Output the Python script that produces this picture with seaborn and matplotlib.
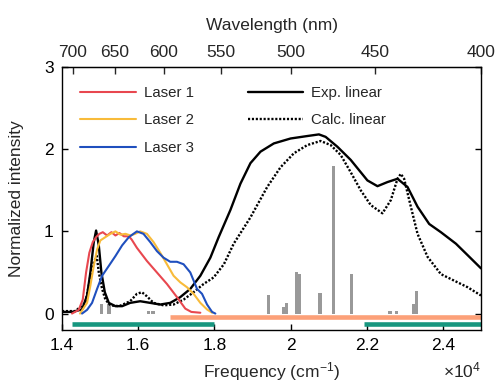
import numpy as np
import pandas as pd
import matplotlib
matplotlib.use("Agg")
import matplotlib.pyplot as plt
import seaborn as sns
from matplotlib.lines import Line2D

# ---------------- data ----------------
exp_f = [14000, 14263, 14526, 14658, 14745, 14834, 14895, 14966, 15034, 15124, 15229,
         15403, 15579, 15789, 16053, 16316, 16579, 16842, 17105, 17368, 17632, 17895,
         18113, 18421, 18684, 18947, 19211, 19561, 20000, 20439, 20745, 20921, 21229,
         21579, 22018, 22282, 22545, 22808, 23071, 23334, 23640, 23947, 24342, 24650, 25000]
exp_y = [0.02, 0.02, 0.05, 0.22, 0.50, 0.87, 1.01, 0.83, 0.50, 0.26, 0.13,
         0.09, 0.09, 0.13, 0.15, 0.13, 0.11, 0.13, 0.20, 0.30, 0.46, 0.68,
         0.93, 1.26, 1.58, 1.83, 1.97, 2.07, 2.13, 2.16, 2.18, 2.15, 2.03,
         1.87, 1.62, 1.55, 1.60, 1.64, 1.54, 1.30, 1.09, 0.99, 0.85, 0.71, 0.55]

calc_f = [14000, 14350, 14613, 14703, 14789, 14913, 14966, 15053, 15139, 15271, 15500,
          15789, 15966, 16097, 16229, 16403, 16666, 16929, 17192, 17455, 17718, 17982,
          18250, 18508, 18947, 19387, 19737, 20087, 20439, 20789, 21053, 21316, 21579,
          21842, 22105, 22413, 22632, 22808, 22895, 22982, 23158, 23334, 23597, 23947,
          24297, 24650, 25000]
calc_y = [0.03, 0.03, 0.13, 0.34, 0.58, 0.70, 0.50, 0.30, 0.17, 0.10, 0.09,
          0.15, 0.24, 0.26, 0.21, 0.13, 0.10, 0.11, 0.17, 0.26, 0.36, 0.44,
          0.60, 0.85, 1.17, 1.54, 1.78, 1.95, 2.05, 2.10, 2.05, 1.93, 1.72,
          1.50, 1.32, 1.22, 1.38, 1.64, 1.70, 1.64, 1.30, 0.97, 0.69, 0.48,
          0.40, 0.32, 0.22]

laser1_f = [14263, 14439, 14545, 14632, 14718, 14808, 14895, 14982, 15071, 15184, 15297,
            15403, 15508, 15624, 15755, 15830, 15966, 16229, 16492, 16755, 17018, 17237,
            17395, 17632]
laser1_y = [0.00, 0.045, 0.17, 0.50, 0.74, 0.87, 0.93, 0.97, 0.99, 0.95, 0.99,
            0.95, 0.98, 0.94, 0.94, 0.90, 0.80, 0.64, 0.50, 0.36, 0.20, 0.06,
            0.02, 0.01]

laser2_f = [14474, 14658, 14745, 14834, 14921, 15008, 15139, 15271, 15403, 15534, 15666,
            15797, 15921, 16053, 16229, 16403, 16579, 16755, 16929, 17105, 17282, 17455,
            17632, 17808, 17940]
laser2_y = [0.00, 0.13, 0.34, 0.58, 0.78, 0.89, 0.93, 0.97, 1.00, 0.96, 0.97,
            0.95, 0.97, 1.00, 0.97, 0.87, 0.74, 0.60, 0.46, 0.38, 0.32, 0.24,
            0.13, 0.05, 0.01]

laser3_f = [14526, 14658, 14789, 14921, 15053, 15229, 15403, 15579, 15755, 15966, 16139,
            16316, 16492, 16666, 16842, 17018, 17192, 17368, 17545, 17676, 17808, 17940,
            18026]
laser3_y = [0.00, 0.045, 0.13, 0.30, 0.46, 0.58, 0.70, 0.83, 0.93, 1.00, 0.97,
            0.87, 0.76, 0.68, 0.63, 0.63, 0.60, 0.50, 0.30, 0.24, 0.11, 0.02,
            0.00]

stick_f = [15044, 15237, 16271, 16386, 19413, 19824, 19887, 20158, 20245, 20771,
           21124, 21597, 22613, 22782, 23218, 23308]
stick_h = [0.12, 0.12, 0.03, 0.03, 0.22, 0.08, 0.13, 0.50, 0.48, 0.25,
           1.80, 0.48, 0.03, 0.03, 0.12, 0.28]

orange_band_start = [16840]
orange_band_end = [25000]
teal_band_start = [14260, 21920]
teal_band_end = [18000, 25000]

x_ticks = [14000, 16000, 18000, 20000, 22000, 24000]
x_ticklabels = ["1.4", "1.6", "1.8", "2", "2.2", "2.4"]
wl_ticks = [700, 650, 600, 550, 500, 450, 400]
y_ticks = [0, 1, 2, 3]

# ---------------- style ----------------
sns.set_style("ticks")
plt.rcParams["font.family"] = ["Liberation Sans", "DejaVu Sans"]
plt.rcParams["mathtext.fontset"] = "custom"
plt.rcParams["mathtext.rm"] = "Liberation Sans"
plt.rcParams["mathtext.it"] = "Liberation Sans:italic"
plt.rcParams["mathtext.bf"] = "Liberation Sans:bold"

C_RED = "#e8474f"
C_YEL = "#f8bb3a"
C_BLUE = "#1f4fbe"
C_TEAL = "#17967f"
C_ORANGE = "#fca078"
C_GRAY = "#999999"

LW_BLACK = 1.7
LW_LASER = 1.5

fig = plt.figure(figsize=(5.01, 3.82), dpi=100)
ax = fig.add_axes([62 / 501, 52 / 382, 419 / 501, 263 / 382])

# stick spectrum
ax.bar(stick_f, stick_h, width=85, color=C_GRAY, linewidth=0, zorder=1)

# bands
ax.hlines([-0.043] * len(orange_band_start), orange_band_start, orange_band_end,
          colors=C_ORANGE, linewidth=3.3, zorder=2)
ax.hlines([-0.128] * len(teal_band_start), teal_band_start, teal_band_end,
          colors=C_TEAL, linewidth=3.3, zorder=2)

# spectra
dots = (0, (0.9, 0.75))
sns.lineplot(x=exp_f, y=exp_y, ax=ax, color="black", linewidth=LW_BLACK, sort=False,
             estimator=None, zorder=3)
sns.lineplot(x=calc_f, y=calc_y, ax=ax, color="black", linewidth=LW_BLACK, sort=False,
             estimator=None, linestyle=dots, zorder=3)
for fx, fy, c in [(laser1_f, laser1_y, C_RED), (laser2_f, laser2_y, C_YEL),
                  (laser3_f, laser3_y, C_BLUE)]:
    sns.lineplot(x=fx, y=fy, ax=ax, color=c, linewidth=LW_LASER, sort=False,
                 estimator=None, zorder=4)

ax.set_xlim(14000, 25000)
ax.set_ylim(-0.2, 3)
ax.set_xticks(x_ticks)
ax.set_xticklabels(x_ticklabels)
ax.set_yticks(y_ticks)
ax.tick_params(axis="both", direction="in", length=4, width=1, labelsize=12.5,
               right=True, top=False, pad=6, colors="black")
for sp in ax.spines.values():
    sp.set_visible(True)
    sp.set_linewidth(1.0)
    sp.set_color("black")

ax.set_xlabel("Frequency (cm$^{-1}$)", fontsize=12.5, labelpad=5)
ax.set_ylabel("Normalized intensity", fontsize=12.5, labelpad=14)
ax.text(1.0, -0.155, r"$\times$10$^{4}$", transform=ax.transAxes, ha="right",
        va="center", fontsize=12.5)


def f2w(x):
    x = np.asarray(x, dtype=float)
    with np.errstate(divide="ignore"):
        return np.where(x == 0, np.inf, 1e7 / np.where(x == 0, 1, x))


sec = ax.secondary_xaxis("top", functions=(f2w, f2w))
sec.set_xticks(wl_ticks)
sec.set_xticklabels([str(w) for w in wl_ticks])
sec.tick_params(direction="in", length=5, width=1, labelsize=12.5, pad=5)
sec.set_xlabel("Wavelength (nm)", fontsize=12.5, labelpad=11)

# legends
h1 = [Line2D([], [], color=C_RED, lw=LW_LASER), Line2D([], [], color=C_YEL, lw=LW_LASER),
      Line2D([], [], color=C_BLUE, lw=LW_LASER)]
leg_kw = dict(loc="upper left", frameon=False, fontsize=10.8, handlelength=3.7,
              handletextpad=0.55, labelspacing=0.9, borderpad=0, borderaxespad=0)
leg1 = ax.legend(h1, ["Laser 1", "Laser 2", "Laser 3"],
                 bbox_to_anchor=(0.043, 0.928), **leg_kw)
ax.add_artist(leg1)
h2 = [Line2D([], [], color="black", lw=LW_BLACK),
      Line2D([], [], color="black", lw=LW_BLACK, linestyle=dots)]
ax.legend(h2, ["Exp. linear", "Calc. linear"],
          bbox_to_anchor=(0.443, 0.928), **leg_kw)

fig.savefig("out.png", dpi=100)
